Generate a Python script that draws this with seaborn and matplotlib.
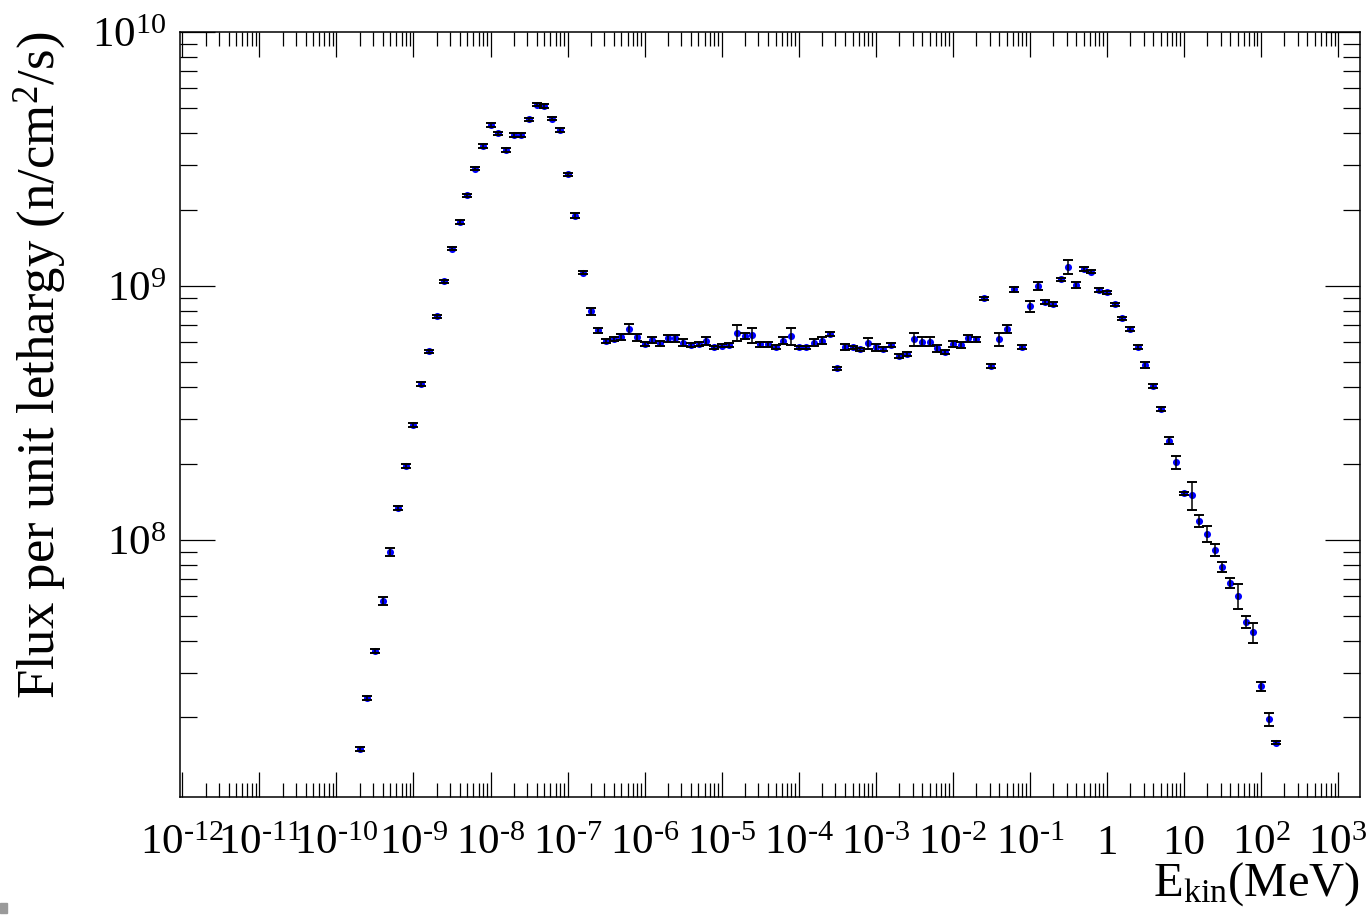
import numpy as np
import pandas as pd
import matplotlib
matplotlib.use('Agg')
import matplotlib.pyplot as plt
import seaborn as sns
from matplotlib.ticker import FixedLocator, FixedFormatter, NullFormatter
from matplotlib.patches import Rectangle

# ---- data ----
log_energy = [
    -9.7, -9.6, -9.5, -9.4, -9.3, -9.2, -9.1, -9.0, -8.9, -8.8,
    -8.7, -8.6, -8.5, -8.4, -8.3, -8.2, -8.1, -8.0, -7.9, -7.8,
    -7.7, -7.6, -7.5, -7.4, -7.3, -7.2, -7.1, -7.0, -6.9, -6.8,
    -6.7, -6.6, -6.5, -6.4, -6.3, -6.2, -6.1, -6.0, -5.9, -5.8,
    -5.7, -5.6, -5.5, -5.4, -5.3, -5.2, -5.1, -5.0, -4.9, -4.8,
    -4.7, -4.6, -4.5, -4.4, -4.3, -4.2, -4.1, -4.0, -3.9, -3.8,
    -3.7, -3.6, -3.5, -3.4, -3.3, -3.2, -3.1, -3.0, -2.9, -2.8,
    -2.7, -2.6, -2.5, -2.4, -2.3, -2.2, -2.1, -2.0, -1.9, -1.8,
    -1.7, -1.6, -1.5, -1.4, -1.3, -1.2, -1.1, -1.0, -0.9, -0.8,
    -0.7, -0.6, -0.5, -0.4, -0.3, -0.2, -0.1, 0.0, 0.1, 0.2,
    0.3, 0.4, 0.5, 0.6, 0.7, 0.8, 0.9, 1.0, 1.1, 1.2,
    1.3, 1.4, 1.5, 1.6, 1.7, 1.8, 1.9, 2.0, 2.1, 2.2,
]

log_flux = [
    7.177, 7.378, 7.563, 7.760, 7.953, 8.126, 8.291, 8.453, 8.614, 8.743,
    8.881, 9.019, 9.147, 9.252, 9.357, 9.462, 9.551, 9.634, 9.601, 9.535,
    9.594, 9.594, 9.656, 9.714, 9.709, 9.659, 9.614, 9.440, 9.277, 9.052,
    8.900, 8.825, 8.783, 8.791, 8.799, 8.830, 8.798, 8.772, 8.787, 8.774,
    8.794, 8.794, 8.777, 8.768, 8.772, 8.785, 8.759, 8.765, 8.768, 8.816,
    8.803, 8.807, 8.770, 8.770, 8.761, 8.785, 8.803, 8.759, 8.759, 8.777,
    8.785, 8.810, 8.676, 8.759, 8.759, 8.751, 8.774, 8.759, 8.751, 8.768,
    8.724, 8.732, 8.790, 8.781, 8.781, 8.755, 8.741, 8.772, 8.768, 8.794,
    8.790, 8.952, 8.685, 8.790, 8.830, 8.987, 8.759, 8.921, 9.000, 8.936,
    8.929, 9.026, 9.076, 9.004, 9.066, 9.056, 8.984, 8.975, 8.928, 8.873,
    8.831, 8.759, 8.689, 8.606, 8.516, 8.391, 8.307, 8.184, 8.177, 8.076,
    8.024, 7.961, 7.895, 7.830, 7.780, 7.678, 7.637, 7.425, 7.295, 7.202,
]

rel_err_pct = [
    1.5, 1.5, 1.5, 3.5, 3.5, 1.5, 1.5, 1.5, 1.5, 1.5,
    1.5, 1.5, 1.5, 1.5, 1.5, 1.5, 1.5, 1.5, 1.5, 1.5,
    1.5, 1.5, 1.5, 1.5, 1.5, 1.5, 1.5, 1.5, 2.5, 1.5,
    3.0, 2.6, 1.5, 1.5, 2.5, 4.5, 3.0, 1.5, 3.0, 2.5,
    3.0, 3.0, 3.0, 2.0, 2.0, 3.5, 1.5, 1.5, 1.5, 7.0,
    3.0, 7.0, 2.0, 2.0, 2.0, 3.0, 7.5, 1.5, 1.5, 3.0,
    3.0, 2.0, 1.5, 2.5, 1.5, 1.5, 5.0, 3.0, 2.0, 1.5,
    1.5, 1.5, 6.0, 4.0, 4.0, 3.0, 2.0, 2.5, 2.5, 3.0,
    2.0, 1.5, 1.5, 5.5, 3.5, 2.5, 2.0, 5.0, 3.5, 2.0,
    2.0, 1.5, 6.0, 2.5, 2.0, 1.5, 2.0, 1.5, 1.5, 1.5,
    1.5, 2.0, 3.0, 1.5, 2.0, 3.0, 6.0, 1.5, 13.0, 5.5,
    7.0, 5.5, 4.5, 4.5, 11.0, 5.5, 9.0, 4.0, 6.0, 1.5,
]

x_tick_exps = list(range(-12, 4))
x_tick_labels = ['$10^{\u201012}$', '$10^{\u201011}$', '$10^{\u201010}$', '$10^{\u20109}$',
                 '$10^{\u20108}$', '$10^{\u20107}$', '$10^{\u20106}$', '$10^{\u20105}$',
                 '$10^{\u20104}$', '$10^{\u20103}$', '$10^{\u20102}$', '$10^{\u20101}$',
                 '1', '10', '$10^{2}$', '$10^{3}$']
y_tick_exps = [8, 9, 10]
y_tick_labels = [r'$10^{8}$', r'$10^{9}$', r'$10^{10}$']

x_label = r'E$_{\mathrm{kin}}$(MeV)'
y_label = r'Flux per unit lethargy (n/cm$^{2}$/s)'

# ---- build table ----
df = pd.DataFrame({
    'energy': 10.0 ** np.array(log_energy),
    'flux': 10.0 ** np.array(log_flux),
})
df['err'] = df['flux'] * np.array(rel_err_pct) / 100.0

# ---- style ----
sns.set_theme(style='ticks')
plt.rcParams['font.family'] = ['Liberation Serif', 'DejaVu Serif']
plt.rcParams['mathtext.fontset'] = 'custom'
plt.rcParams['mathtext.rm'] = 'Liberation Serif'
plt.rcParams['mathtext.it'] = 'Liberation Serif:italic'
plt.rcParams['mathtext.bf'] = 'Liberation Serif:bold'

fig = plt.figure(figsize=(13.7, 9.17), dpi=100)
ax = fig.add_axes([180 / 1370, 1 - 797 / 917, 1180 / 1370, 765 / 917])

sns.scatterplot(data=df, x='energy', y='flux', ax=ax, color='#0000ff',
                s=26, linewidth=0, zorder=2, legend=False)
ax.errorbar(df['energy'], df['flux'], yerr=df['err'], fmt='none',
            ecolor='black', elinewidth=1.1, capsize=3.6, capthick=1.4,
            zorder=3)

ax.set_xscale('log')
ax.set_yscale('log')
ax.set_xlim(10 ** -12.03, 10 ** 3.285)
ax.set_ylim(10 ** 6.988, 1e10)

ax.xaxis.set_major_locator(FixedLocator([10.0 ** k for k in x_tick_exps]))
ax.xaxis.set_major_formatter(FixedFormatter(x_tick_labels))
xminor = [m * 10.0 ** k for k in range(-13, 4) for m in range(2, 10)]
ax.xaxis.set_minor_locator(FixedLocator(xminor))
ax.xaxis.set_minor_formatter(NullFormatter())

ax.yaxis.set_major_locator(FixedLocator([10.0 ** k for k in y_tick_exps]))
ax.yaxis.set_major_formatter(FixedFormatter(y_tick_labels))
yminor = [m * 10.0 ** k for k in range(6, 10) for m in range(2, 10)]
ax.yaxis.set_minor_locator(FixedLocator(yminor))
ax.yaxis.set_minor_formatter(NullFormatter())

ax.tick_params(which='both', direction='in', top=True, right=True,
               color='black', width=0.9, labelsize=31, labelcolor='black')
ax.tick_params(axis='x', which='major', length=18, pad=20)
ax.tick_params(axis='x', which='minor', length=10)
ax.tick_params(axis='y', which='major', length=25, pad=10)
ax.tick_params(axis='y', which='minor', length=12)

for sp in ax.spines.values():
    sp.set_visible(True)
    sp.set_color('black')
    sp.set_linewidth(1.1)

ax.set_xlabel(x_label, fontsize=35, loc='right', color='black')
ax.xaxis.set_label_coords(1.0, -0.083)
ax.set_ylabel(y_label, fontsize=38, loc='top', color='black')
ax.yaxis.set_label_coords(-0.095, 1.0)

ax.set_facecolor('white')
fig.patch.set_facecolor('white')
ax.grid(False)

fig.patches.append(Rectangle((0, (917 - 913) / 917), 7 / 1370, 10 / 917,
                             transform=fig.transFigure, color='#9a9a9a',
                             zorder=10))

fig.savefig('out.png', dpi=100)
